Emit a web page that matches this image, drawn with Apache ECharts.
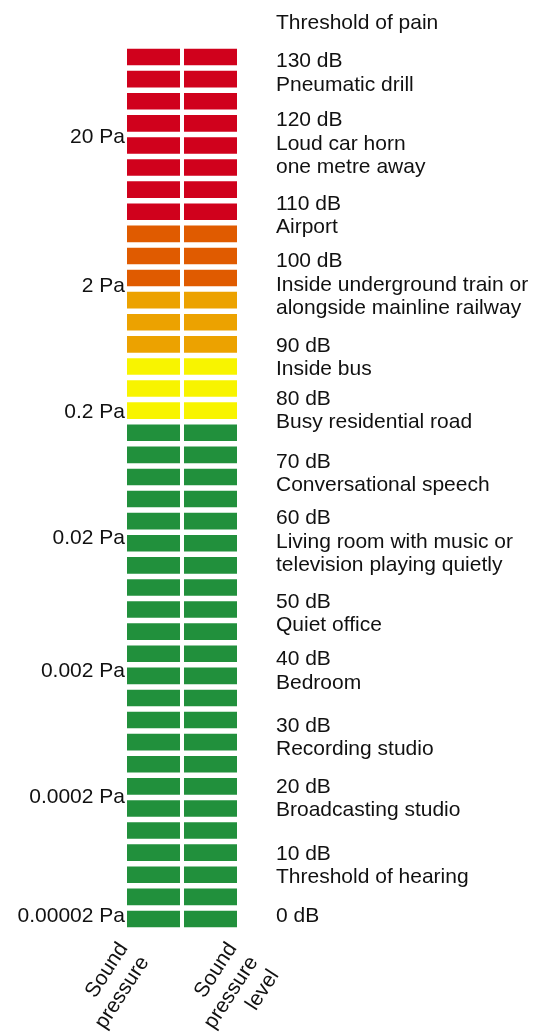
<!DOCTYPE html>
<html>
<head>
<meta charset="utf-8">
<title>Sound pressure and sound pressure level</title>
<script src="https://cdn.jsdelivr.net/npm/echarts@6/dist/echarts.min.js"></script>
<style>
    html, body { margin: 0; padding: 0; width: 100%; height: 100%; background: #fff; }
</style>
</head>
<body>
<div id="container" style="width: 537px; height: 1036px"></div>

<script type="text/javascript">
    // two columns of the meter
    var columns = ['Sound\npressure', 'Sound\npressure\nlevel'];

    // 40 cells from 0 dB to 130 dB, counted by colour band from the bottom
    var cellCount = 40;
    var maxDb = 130;
    var bandCounts = [23, 3, 3, 3, 8];

    // dB levels on the right, with their examples, and where each sits on the dB scale
    var levels = [130, 120, 110, 100, 90, 80, 70, 60, 50, 40, 30, 20, 10, 0];
    var notes = [
        'Pneumatic drill',
        'Loud car horn\none metre away',
        'Airport',
        'Inside underground train or\nalongside mainline railway',
        'Inside bus',
        'Busy residential road',
        'Conversational speech',
        'Living room with music or\ntelevision playing quietly',
        'Quiet office',
        'Bedroom',
        'Recording studio',
        'Broadcasting studio',
        'Threshold of hearing',
        ''
    ];
    var levelAt = [129.6, 120.7, 108.1, 99.4, 86.7, 78.7, 69.2, 60.7, 48.1, 39.4, 29.4, 20.2, 10.1, 0.7];

    // pressure labels on the left
    var pressures = ['20 Pa', '2 Pa', '0.2 Pa', '0.02 Pa', '0.002 Pa', '0.0002 Pa', '0.00002 Pa'];
    var pressureAt = [118.2, 95.8, 76.8, 57.8, 37.6, 18.6, 0.7];

    var topNote = 'Threshold of pain';

    var bandColors = ['#21903c', '#f8f400', '#eca200', '#e05b00', '#d0011c'];
    var font = 'Liberation Sans, Arial, sans-serif';
    var textColor = '#111';

    var step = maxDb / (cellCount - 1);

    // build the cells: [column, dB at cell centre, band]
    var cells = [];
    var band = 0, inBand = 0;
    for (var i = 0; i < cellCount; i++) {
        if (inBand >= bandCounts[band]) { band++; inBand = 0; }
        inBand++;
        for (var c = 0; c < columns.length; c++) {
            cells.push([c, i * step, band]);
        }
    }

    var levelData = [];
    for (var k = 0; k < levels.length; k++) {
        levelData.push({
            value: [1, levelAt[k]],
            text: levels[k] + ' dB' + (notes[k] ? '\n' + notes[k] : '')
        });
    }
    var pressureData = [];
    for (var m = 0; m < pressures.length; m++) {
        pressureData.push({ value: [0, pressureAt[m]], text: pressures[m] });
    }

    var dom = document.getElementById('container');
    var myChart = echarts.init(dom);

    var option = {
        backgroundColor: '#fff',
        animation: false,
        title: {
            text: topNote,
            left: 276,
            top: 11,
            padding: 0,
            textStyle: { fontFamily: font, fontSize: 21, fontWeight: 'normal', color: textColor, lineHeight: 24 }
        },
        grid: { left: 125, top: 46, width: 114, height: 884 },
        xAxis: {
            type: 'category',
            data: columns,
            show: false
        },
        yAxis: {
            type: 'value',
            min: -step / 2,
            max: maxDb + step / 2,
            show: false
        },
        series: [
            {
                type: 'custom',
                data: cells,
                renderItem: function (params, api) {
                    var p = api.coord([api.value(0), api.value(1)]);
                    var s = api.size([1, step]);
                    var w = s[0] - 4, h = s[1] - 5.5;
                    return {
                        type: 'rect',
                        shape: { x: p[0] - w / 2, y: p[1] - h / 2, width: w, height: h },
                        style: { fill: bandColors[api.value(2)] }
                    };
                }
            },
            {
                // column names, rotated under the cells
                type: 'custom',
                clip: false,
                data: [[0, -step / 2], [1, -step / 2]],
                renderItem: function (params, api) {
                    var col = api.value(0);
                    var p = api.coord([col, api.value(1)]);
                    var w = api.size([1, step])[0] - 4;
                    var x = col === 0 ? p[0] - w / 2 - 14 : p[0] + w / 2 - 15;
                    return {
                        type: 'text',
                        x: x,
                        y: p[1] + 8,
                        rotation: 57 * Math.PI / 180,
                        style: {
                            text: columns[col],
                            font: '21px ' + font,
                            fill: textColor,
                            align: 'right',
                            verticalAlign: 'top',
                            lineHeight: 25
                        }
                    };
                }
            },
            {
                type: 'scatter',
                clip: false,
                symbolSize: 0,
                itemStyle: { opacity: 1 },
                data: levelData,
                label: {
                    show: true,
                    position: [65.5, -10],
                    align: 'left',
                    verticalAlign: 'top',
                    formatter: function (p) { return p.data.text; },
                    fontFamily: font,
                    fontSize: 21,
                    lineHeight: 23.5,
                    color: textColor,
                    opacity: 1
                }
            },
            {
                type: 'scatter',
                clip: false,
                symbolSize: 0,
                itemStyle: { opacity: 1 },
                data: pressureData,
                label: {
                    show: true,
                    position: [-28.5, -10],
                    align: 'right',
                    verticalAlign: 'top',
                    formatter: function (p) { return p.data.text; },
                    fontFamily: font,
                    fontSize: 21,
                    lineHeight: 24,
                    color: textColor,
                    opacity: 1
                }
            }
        ]
    };

    if (option && typeof option === 'object') {
        myChart.setOption(option);
    }
</script>
</body>
</html>
